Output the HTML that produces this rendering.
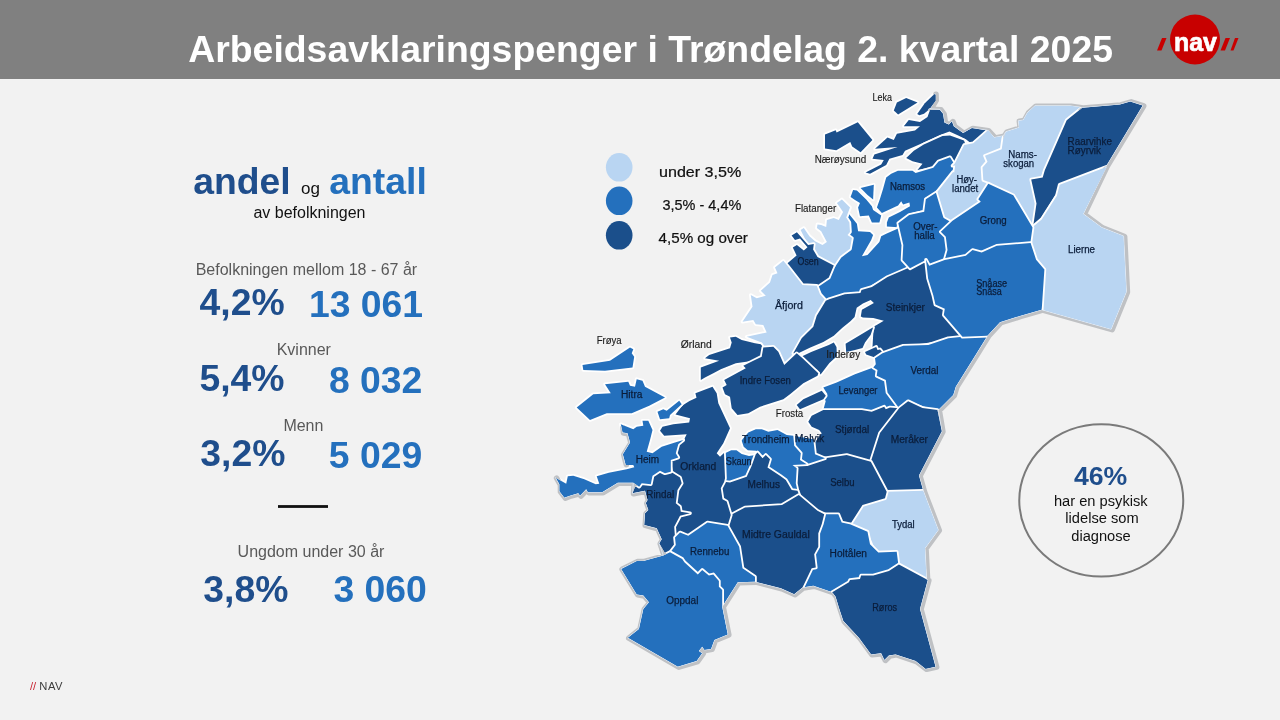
<!DOCTYPE html>
<html lang="nb">
<head>
<meta charset="utf-8">
<title>Arbeidsavklaringspenger i Trøndelag 2. kvartal 2025</title>
<style>
html,body{margin:0;padding:0;}
body{width:1280px;height:720px;overflow:hidden;background:#f2f2f2;font-family:"Liberation Sans",Arial,sans-serif;position:relative;}
.hdr{position:absolute;left:0;top:0;width:1280px;height:78.5px;background:#808080;}
svg{position:absolute;left:0;top:0;}
svg text{font-family:"Liberation Sans",Arial,sans-serif;}
.L{fill:#b9d5f2;stroke:#fff;stroke-width:3.6;paint-order:stroke;stroke-linejoin:round;}
.M{fill:#2470bd;stroke:#fff;stroke-width:3.6;paint-order:stroke;stroke-linejoin:round;}
.D{fill:#1b4f8b;stroke:#fff;stroke-width:3.6;paint-order:stroke;stroke-linejoin:round;}
.W{fill:#f2f2f2;stroke:#fff;stroke-width:1.2;stroke-linejoin:round;}
.bw{fill:none;stroke:#dbe8f6;stroke-width:0.9;stroke-linejoin:round;stroke-linecap:round;}
.bd{fill:none;stroke:#bfc1c4;stroke-width:5.6;stroke-linejoin:round;stroke-linecap:round;}
#lab text{font-size:10px;fill:#0b1d3a;stroke:#0b1d3a;stroke-width:.25;}
#lab text.o{fill:#1c1c1c;stroke:#1c1c1c;stroke-width:.15;}
#leg text{font-size:13.9px;fill:#111;stroke:#111;stroke-width:.2;}
</style>
</head>
<body>
<div class="hdr"></div>

<svg width="1280" height="720" viewBox="0 0 1280 720">
<text x="30" y="689.9" font-size="11.2" fill="#3c3c3c"><tspan fill="#c8202f">//</tspan> <tspan letter-spacing=".5">NAV</tspan></text>
<g id="txt">
<text x="188.2" y="62" font-size="37.4" font-weight="bold" fill="#fff">Arbeidsavklaringspenger i Trøndelag 2. kvartal 2025</text>
<g font-size="37.33" font-weight="bold">
<text x="193.2" y="194.1" fill="#1f4e8c">andel</text>
<text x="329.3" y="194.1" fill="#2470bd">antall</text>
<text x="199.5" y="315.1" fill="#1f4e8c">4,2%</text>
<text x="308.9" y="317" fill="#2470bd">13 061</text>
<text x="199.4" y="390.9" fill="#1f4e8c">5,4%</text>
<text x="328.9" y="392.9" fill="#2470bd">8 032</text>
<text x="200.3" y="465.9" fill="#1f4e8c">3,2%</text>
<text x="328.8" y="467.5" fill="#2470bd">5 029</text>
<text x="203.3" y="601.7" fill="#1f4e8c">3,8%</text>
<text x="333.4" y="601.7" fill="#2470bd">3 060</text>
</g>
<text x="301" y="193.7" font-size="17" fill="#111">og</text>
<text x="253.4" y="217.7" font-size="16" fill="#111">av befolkningen</text>
<g font-size="16" fill="#595959">
<text x="195.7" y="275.3">Befolkningen mellom 18 - 67 år</text>
<text x="276.7" y="355.3">Kvinner</text>
<text x="283.4" y="431.3">Menn</text>
<text x="237.6" y="556.6">Ungdom under 30 år</text>
</g>
<rect x="278" y="505.1" width="50" height="2.8" fill="#111"/>
</g>
<!-- NAV logo -->
<g id="logo">
<circle cx="1195" cy="39.5" r="25" fill="#c80000"/>
<polygon points="1162,38 1166.5,38 1161.5,50.5 1157,50.5" fill="#c80000"/>
<polygon points="1225.5,38 1230,38 1225,50.5 1220.5,50.5" fill="#c80000"/>
<polygon points="1235,38 1238.5,38 1233.5,50.5 1230.5,50.5" fill="#c80000"/>
<text x="1173.9" y="50.6" textLength="43" lengthAdjust="spacingAndGlyphs" font-size="26.5" font-weight="bold" fill="#fff" stroke="#fff" stroke-width="0.7" style="font-family:'Liberation Sans',Arial,sans-serif">nav</text>
</g>
<!-- circle callout -->
<ellipse cx="1101.25" cy="500.4" rx="82" ry="76.2" fill="none" stroke="#7a7a7a" stroke-width="2"/>
<text x="1100.6" y="484.5" text-anchor="middle" font-size="26.67" font-weight="bold" fill="#1f4e8c">46%</text>
<text x="1100.8" y="505.6" text-anchor="middle" font-size="14.67" fill="#111">har en psykisk</text>
<text x="1102" y="523.2" text-anchor="middle" font-size="14.67" fill="#111">lidelse som</text>
<text x="1101" y="540.6" text-anchor="middle" font-size="14.67" fill="#111">diagnose</text>
<!-- legend -->
<g id="leg">
<ellipse cx="619.2" cy="167.3" rx="13.3" ry="14.3" fill="#b9d5f2"/>
<ellipse cx="619.2" cy="200.8" rx="13.3" ry="14.3" fill="#2470bd"/>
<ellipse cx="619.2" cy="235.3" rx="13.3" ry="14.3" fill="#1b4f8b"/>
<text x="659" y="176.8" textLength="82.3" lengthAdjust="spacingAndGlyphs">under 3,5%</text>
<text x="662.5" y="209.5" textLength="78.8" lengthAdjust="spacingAndGlyphs">3,5% - 4,4%</text>
<text x="658.6" y="243" textLength="89.3" lengthAdjust="spacingAndGlyphs">4,5% og over</text>
</g>
<!-- map -->
<g id="map">
<defs>
<polygon id="p0" points="893.8,110.6 896.9,102.5 906.2,98.1 917.5,102.5 898.1,114.4"/>
<polygon id="p1" points="917.2,114 924.8,103.2 934.4,94 935.8,94.5 935.8,100.8 930,108.8 924,113.8 919.4,115.2"/>
<polygon id="p2" points="930,110 940,110 943.1,113.8 944.4,122.5 948.8,124.4 951.9,121.2 953.8,126.2 963.1,133.1 971.9,128.1 987.5,130.6 977.5,142.8 973.1,144.9 966.2,139.5 958.8,135.8 949.4,131.4 940,135.1 925,142 905,150.8 902.5,155 889.4,158.8 886.2,165 870,173.8 865.6,172.5 881.2,164.4 883.8,160 872.5,158.8 874.4,154.4 897.5,146.9 875,148.8 887.5,137.5 893.8,140 896.9,133.8 915,130.6 920,126.2 903.8,126.2 908.8,120 920,121.9 927.5,116.9"/>
<polygon id="p3" points="906.2,158.1 913.8,150.8 923.8,144.4 942.5,136.1 950,135.5 964,140.5 965.2,143.8 957.5,163.1 950,158.1 940,162.5 935,166.2 917.5,170 922.5,163.8 912.5,161.2"/>
<polygon id="p4" points="825,134.4 835.7,130.3 836.6,132.5 857.8,122.2 872.4,140 860.6,152.2 852.2,146.6 850.3,141.9 836.3,150.3 825,148.4"/>
<polygon id="p5" points="876.9,207.5 880,198.8 883.1,188.8 886.2,177.5 891.2,173.8 897.9,170.8 912.5,170.8 915.6,172.9 933.3,167.7 938.5,161.5 950,157.3 955.2,165.6 953.1,171.9 937.5,191.5 925,198.1 923.8,210 908.8,213.8 898.1,223.8 898.1,227.3 886.9,226.5 886.9,222.5 888.8,217.5 900,211.9 910,206.2 909.4,202.5 903.1,204.4 901.2,201.2 898.1,205.6 881.9,213.1"/>
<polygon id="p6" points="860.6,188.1 873.8,184.8 873.1,199.4 867.5,195"/>
<polygon id="p7" points="850.6,196.9 853.1,190 856.9,190.6 866.2,199.4 871.9,206.2 873.1,210 881.2,215.6 879.4,222.5 871.9,222.5 868.8,215.6 860,216.2 858.1,207.5 860,203.1 855,200"/>
<polygon id="p8" points="848.8,213.8 856.9,223.8 858.1,231.2 870,231.9 873.1,235 871.2,240 861.9,256.2 867.5,255 879.4,241.9 881.2,236.2 886.2,233.8 898.1,228.5 899,224 902.1,241.7 902.1,258.3 909.4,267.7 887.5,277.1 870.8,285.4 868.3,289.6 852.1,293.8 829.2,299.2 825.8,300.8 820,294.2 816.7,285.8 828.8,277.5 832.3,263.5 849,247.9 850,237.5 846.2,232.3 846.9,222.5"/>
<polygon id="p9" points="836.9,203.1 841.9,199.4 850,207.5 846.2,217.5 849.4,222.5 850,231.9 847.5,235 851.9,238.1 850,248.8 840,256.2 833.8,265.6 817.5,256.9 813.1,249.4 813.8,244.1 808.1,245 800.6,230 803.8,228.1 809.4,236.2 815,241.2 822.5,245 826.9,241.9 821.2,231.2 816.9,228.1 817.5,224.4 821.2,225 826.2,226.9 826.9,220 833.8,218.1 838.8,220 843.1,211.9 840,207.5"/>
<polygon id="p10" points="791.6,235.6 796.9,232.2 808.1,245 813.8,244.1 813.1,249.4 817.5,256.9 833.8,265.6 828.8,277.5 816.7,285.8 802.5,285 786.9,263.8 796.6,255.6 792.8,247.5 796.9,245 803.8,250.6 807.5,247.2 800,238.4 795,240"/>
<polygon id="p11" points="783.3,260.8 787.5,265.8 802.5,285 816.7,285.8 820,294.2 825.8,300.8 816.7,315.8 813.3,326.7 801.7,338.3 793.3,353.3 785,365 780,356.7 776.7,348.3 764.2,346.7 761.7,342.5 746.7,336.7 766.7,332.5 763.3,325 755.8,324.2 753.3,320 742.5,321.7 752.5,306.7 750.8,295 756.7,298.3 765.8,295.8 760.8,290.8 770,282.5 772.5,275 777.5,273.3 775,267.5"/>
<polygon id="p12" points="926,259.8 928.1,278.5 933.3,295.2 935.4,304.6 944.8,308.8 943.8,315 962.5,336.9 933.3,342.1 904.2,346.2 882.8,353.3 880,349.4 877.5,350 876.2,346.9 872.5,346.9 873.1,336.2 873.9,326.5 877.5,324.4 883.8,320.7 873.3,318.1 862.9,317.6 860.8,316.6 861.9,309.8 873.9,303 870.7,299.9 862.9,303.5 856.7,307.7 854.6,317.1 850.4,321.2 842.1,328 833.8,335.8 823.3,342.1 809.8,347.8 797.8,353.5 793.3,353.3 801.7,338.3 813.3,326.7 816.7,315.8 825.8,300.8 829.2,299.2 844.8,294.2 860.4,293.1 861.5,290 871.9,286.9 887.5,277.1 908.3,268.1"/>
<polygon id="p13" points="800.6,356.9 811.2,351.9 828.8,345 833.8,342.5 836.5,346.9 836.9,356.2 829.4,363.1 820.6,374.4 817.5,370 804.4,363.1"/>
<polygon id="p14" points="845.6,343.8 871.9,328.1 873.1,327.5 870.6,335 865,342.5 862.5,348.1 855,350 846.2,351.9"/>
<polygon id="p15" points="865,351.9 873.8,348.1 876.2,346.9 877.5,350 880,349.4 883.1,353.1 875,357.5 866.2,354.4"/>
<polygon id="p16" points="823.3,387.5 836.7,382.5 855,374.2 873.3,367.5 877.5,370 876.7,375.8 885.8,380 887.5,392.5 899.2,408.3 890,407.5 885.8,409.2 884.2,406.7 871.7,411.7 861.7,410 823.3,410 825.8,400.8 823.3,399.2 827.5,394.2"/>
<polygon id="p17" points="796.7,405 803.3,399.2 821.7,390.8 825.8,395.8 823.3,399.2 800,409.2"/>
<polygon id="p18" points="823.3,410 861.7,410 871.7,411.7 884.2,406.7 885.8,409.2 890,407.5 899.2,408.3 880,433.3 870.8,460.8 845,455.8 825.8,457.5 815,455 814.2,443.3 821.7,433.3 819.2,430 811.7,426.7 808.3,421.7 811.7,415.8"/>
<polygon id="p19" points="875,358.3 882.5,353.3 903.3,345.8 928.3,345 948.3,338.3 962.5,336.7 987.5,335.8 976.7,353.3 955.8,386.7 953.3,395 938.3,410 926.7,407.5 908.3,400.8 899.2,408.3 887.5,392.5 885.8,380 876.7,375.8 877.5,370 873.3,367.5 875.8,364.2"/>
<polygon id="p20" points="937.5,191.7 945,216.7 952.5,220.8 940.8,231.7 945.8,236.7 947.5,250 944.2,260 929.2,265.8 925.8,260 910,268.3 902.5,260 903.3,245 898.3,223.3 909.2,215 924.2,211.7 925.8,199.2"/>
<polygon id="p21" points="973.3,143.3 988.3,130 994.2,137.5 1003.3,135.8 1003.3,138.3 1001.7,149.2 985,155.8 987.5,161.7 982.5,167.5 983.3,180 990,182.5 978.3,200 980.8,204.2 952.5,220.8 945,216.7 937.5,191.7 953.1,171.9 954.2,172.5 955.2,165.6 952.5,165.8 955,163.3 964.2,145"/>
<polygon id="p22" points="1003.3,138.3 1005.8,131.7 1019.2,127.5 1018.3,120.8 1023.3,120 1027.5,112.5 1035,105.8 1070,105.8 1081,107 1067.5,120.8 1060.8,138.3 1055,152.5 1044.2,167.5 1040.8,178.3 1031,180.8 1036.7,200 1034,224 1032.5,227.5 1013.3,195 1005.8,191.7 998.3,190 990,182.5 983.3,180 982.5,167.5 987.5,161.7 985,155.8 1001.7,149.2"/>
<polygon id="p23" points="1082.3,107.7 1119.8,104.6 1130.2,101.5 1142.7,105.6 1106.2,166 1059.4,184.8 1057.3,192.1 1041.7,217.1 1033.3,225.4 1036.5,203.5 1031.2,179.6 1042.7,177.5 1044.8,170.2 1066.7,120.2"/>
<polygon id="p24" points="1106.9,166.7 1083.3,213.9 1088.9,218.1 1101.7,227.5 1123.6,236.1 1126.4,291.7 1111.1,329.2 1041.7,309.7 1044.4,269.4 1036.1,259.7 1030.6,243.1 1033.3,226.4 1041.7,219.4 1056.9,195.8 1059.7,184.7"/>
<polygon id="p25" points="988.3,183.7 1013.3,195.3 1032.5,227.5 1030.3,243.3 996.7,245.8 981.7,252.5 972.5,250 965.8,255.8 944.7,260 947.5,250 945.8,236.7 940.8,231.7 952.5,220.8 980.8,201.7 978.3,199.2"/>
<polygon id="p26" points="944.7,260 965.8,255.8 972.5,250 981.7,252.5 996.7,245.8 1030.6,243.1 1036.1,259.7 1044.4,269.4 1041.7,309.7 1020,316 1000,322.2 987.5,335.8 962.5,336.7 943.8,315 944.8,308.8 935.4,304.6 933.3,295.2 928.1,278.5 926,259.8 929.2,265.8"/>
<polygon id="p27" points="899.4,408.1 908.1,401.2 922.5,408.1 937.5,410 941.9,431.2 919,475.5 923.3,490.8 886.7,491.7 870.8,461.7 880,433.1"/>
<polygon id="p28" points="886.7,491.7 923.3,490.8 925.8,497.5 938.3,530 925,548.3 926.6,579.7 898.4,565.6 896.7,553.3 875.8,550.8 868.3,533.3 850.8,523.3 862.5,505 885,498.3"/>
<polygon id="p29" points="792.5,465 806.7,464.2 825,458.3 846.7,455 870.8,461.7 886.7,491.7 885,498.3 862.5,505 850.8,523.3 842.5,522.5 839.2,514.2 824.2,513.3 816.7,510 799.2,495 795.8,483.3 796.7,468.3"/>
<polygon id="p30" points="793.3,435.8 813.3,439.2 815,454.2 825,458.3 806.7,464.2 800,460 800.8,453.3 794.2,445.8"/>
<polygon id="p31" points="742.5,439.2 748.3,432.5 755.8,429.2 761.7,429.2 768.3,431.7 777.5,430 786.7,435 793.3,435.8 794.2,445.8 800.8,453.3 800,460 806.7,464.2 792.5,465 796.7,468.3 795.8,483.3 797.5,490.8 791.7,490 785.8,480 780,475.8 767.5,467.5 770,459.2 765.8,455 762.5,458.3 757.5,452.5 756.2,450.8 747.8,450.3 743.7,446.7 741.7,440.8"/>
<polygon id="p32" points="725,453.3 731.2,450.3 736.5,450.3 741.7,454 749,456 755.5,455 751.7,465.8 746.7,476.7 730,482.5 724.2,481.7 725,465 723.3,458.3"/>
<polygon id="p33" points="755.8,454.2 757.5,452.5 762.5,458.3 765.8,455 770,459.2 767.5,467.5 780,475.8 785.8,480 791.7,490 797.5,490.8 799.2,495 784.2,505 745,507.5 730.8,515 726.7,500.8 722.5,499.2 720.8,488.3 724.2,481.7 730,482.5 746.7,476.7 751.7,465.8"/>
<polygon id="p34" points="824.2,514.2 838.3,514.2 841.7,522.5 850,524.2 867.5,531.7 870,544.2 878.3,552.5 896.7,551.7 898.3,564.2 886.7,575 873.3,575.8 865,578.3 860,576.7 859.2,580 851.7,580 848.3,583.3 832.5,593.3 830.8,591.7 813.3,585.8 802.5,587.5 811.7,568.3 815.8,567.5 814.2,554.2 818.3,546.7 818.3,533.3 821.7,524.2"/>
<polygon id="p35" points="730.8,515 745,507.5 782,505 798.8,495 817.5,510.8 824.2,514.2 821.7,524.2 818.3,533.3 818.3,546.7 814.2,554.2 815.8,567.5 811.7,568.3 802.5,587.5 794.2,594.2 780.8,588.3 755,581.7 755,576.7 742.5,568.3 739.2,546.7 727.5,525.8"/>
<polygon id="p36" points="712.5,386.7 716.7,393.3 718.3,403.3 730,428.3 723.3,443.3 716.7,453.3 720,456.7 724,453 725,478.3 724.2,481.7 720.8,488.3 722.5,499.2 726.7,501.5 730.8,515 727.5,525.8 707.5,522.5 688.3,535.8 680,532.5 675,537.5 674.2,526.7 680,515.8 690,513.3 680.8,511.7 680,506.7 675.8,503.3 677.5,490 680,482 680.8,478.3 674.2,478.3 670.8,460 678.3,456.7 675.8,453.3 678.3,443.3 684.2,439.2 686.7,434.2 664.2,435.8 660,430.8 662.5,426.7 673.3,424.2 689.2,422.5 690,418.3 675.5,414.5 682.4,405.4 689.5,401 696.5,397.8 695.4,393.3"/>
<polygon id="p37" points="657.5,411.7 663.3,409.2 666.7,410.8 679.2,400.8 681.7,404.2 670,415 669.2,418.3 660,419.2"/>
<polygon id="p38" points="652.5,475.8 660,470.8 665,473.3 670.8,471.7 680,477.5 681.7,483.3 677.5,490 675.8,503.3 680,506.7 680.8,511.7 690,513.3 680,515.8 674.2,526.7 675,537.5 675.8,545 670.8,551.7 665,553.3 659.2,543.3 661.7,539.2 656.7,528.3 644.2,525 645,513.3 648.3,510 645.8,503 647.5,500 645,490.8 632.5,493.3 635,486.7 640,485.8 641.7,483.3 650.8,484.2"/>
<polygon id="p39" points="620.8,424.2 633.3,429.2 636.7,426.7 643.3,425.8 642.5,420.8 648.3,420.8 652.5,430 650,440 646.7,451.7 652.5,453.3 661.7,446.7 675,442.5 683.3,440 678.3,444.2 675.8,453.3 678.3,457.5 670.8,460 670.8,471.7 665,473.3 660,470.8 652.5,475.8 650.8,484.2 641.7,483.3 639.2,486.7 633.3,482.8 617.8,482.8 602.2,492.2 587.8,492.2 586.2,489.3 580,495.7 578.3,493.3 570,495.7 564.3,497.8 559.3,491.2 559.3,484.3 555.7,477.8 566.2,483.8 567.8,476.2 573.3,475.7 584.3,479.3 595.7,484.3 599.3,483.8 596.7,476.2 608.8,472.8 626.7,469.3 634.3,467.2 633.3,465 625.7,465 622.8,454.3 630,442.5 627.5,433.3 622.5,432.5"/>
<polygon id="p40" points="582.5,365 610,360.8 630,347.5 633.3,349.2 631.7,353.3 634.2,356.7 632.5,367.5 605,370.8 583.3,370"/>
<polygon id="p41" points="605,384.2 628.3,381.7 630,385.8 635,386.7 636.7,379.2 642.5,380.8 645,386.7 665,397.5 649.2,405.8 631.7,413.3 606.7,413.3 590,420 576.7,407.5 593.3,394.2 610.8,393.3"/>
<polygon id="p42" points="727.5,525.8 739.2,546.7 742.5,568.3 755,576.7 755,581.7 737.8,582.2 722.2,606.7 722.2,590 718.9,586.7 718.9,581.1 713.3,574.4 708.9,575.6 702.2,570 697.8,574.4 684.4,562.2 682.2,558.9 670.8,551.7 675.8,545 675,537.5 680,532.5 688.3,535.8 707.5,522.5"/>
<polygon id="p43" points="670,552.2 682.2,558.9 684.4,562.2 697.8,574.4 702.2,570 708.9,575.6 713.3,574.4 718.9,581.1 718.9,586.7 722.2,590 722.2,606.7 727.8,634.4 714.4,640 711.1,648.9 704.4,650 702.2,646.7 698.9,651.1 702.2,653.3 696.7,661.1 677.8,666.7 627.8,637.8 638.9,628.9 643.3,608.9 648.9,602.2 643.3,595.6 636.7,594.4 621.1,568.9 636.7,561.1 643.3,561.1 663.3,555.6"/>
<polygon id="p44" points="832.2,592.2 848.9,582.2 850,580 860,578.9 861.1,575.6 873.3,575.6 888.9,571.1 898.9,564.4 927.8,580 920,608.9 935.6,666.7 925.6,668.9 915.6,661.1 895.6,654.4 888.9,655.6 884.4,660 881.1,653.3 871.1,654.4 858.9,637.8 843.3,621.1 838.9,607.8 835.6,596.7"/>
<polygon id="p45" points="730,337.5 735.8,336.7 741.7,340 755,343.3 760.8,344.2 763.3,347.5 761.7,356.7 753.3,360.8 735.8,363.3 720.8,369.2 713.3,373.3 705,377.5 700.8,380 700.8,367.5 719.2,360.8 705,358.3 709.2,355 730,348.3 731.7,342.5"/>
<polygon id="p46" points="761.7,356.7 763.3,347.5 773.3,346.7 778.3,351.7 784.2,365 796.7,353.3 802.5,358.3 818.3,373.3 817.5,375.8 803.3,383.3 790,394.2 783.3,399.2 760,406.7 748.3,413.3 737.5,415 731.7,408.3 730,396.7 725,394.2 722.5,387.5 726.7,385 724.2,380 745.8,368.3 743.3,365.8 753.3,360.8"/>
<mask id="out" maskUnits="userSpaceOnUse" x="520" y="80" width="660" height="620"><rect x="520" y="80" width="660" height="620" fill="#fff"/><g fill="#000"><use href="#p0"/><use href="#p1"/><use href="#p2"/><use href="#p3"/><use href="#p4"/><use href="#p5"/><use href="#p6"/><use href="#p7"/><use href="#p8"/><use href="#p9"/><use href="#p10"/><use href="#p11"/><use href="#p12"/><use href="#p13"/><use href="#p14"/><use href="#p15"/><use href="#p16"/><use href="#p17"/><use href="#p18"/><use href="#p19"/><use href="#p20"/><use href="#p21"/><use href="#p22"/><use href="#p23"/><use href="#p24"/><use href="#p25"/><use href="#p26"/><use href="#p27"/><use href="#p28"/><use href="#p29"/><use href="#p30"/><use href="#p31"/><use href="#p32"/><use href="#p33"/><use href="#p34"/><use href="#p35"/><use href="#p36"/><use href="#p37"/><use href="#p38"/><use href="#p39"/><use href="#p40"/><use href="#p41"/><use href="#p42"/><use href="#p43"/><use href="#p44"/><use href="#p45"/><use href="#p46"/></g></mask>
</defs>
<use href="#p0" class="D"/>
<use href="#p1" class="D"/>
<use href="#p2" class="D"/>
<use href="#p3" class="D"/>
<use href="#p4" class="D"/>
<use href="#p5" class="M"/>
<use href="#p6" class="M"/>
<use href="#p7" class="M"/>
<use href="#p8" class="M"/>
<use href="#p9" class="L"/>
<use href="#p10" class="D"/>
<use href="#p11" class="L"/>
<use href="#p12" class="D"/>
<use href="#p13" class="D"/>
<use href="#p14" class="D"/>
<use href="#p15" class="D"/>
<use href="#p16" class="M"/>
<use href="#p17" class="D"/>
<use href="#p18" class="D"/>
<use href="#p19" class="M"/>
<use href="#p20" class="M"/>
<use href="#p21" class="L"/>
<use href="#p22" class="L"/>
<use href="#p23" class="D"/>
<use href="#p24" class="L"/>
<use href="#p25" class="M"/>
<use href="#p26" class="M"/>
<use href="#p27" class="D"/>
<use href="#p28" class="L"/>
<use href="#p29" class="D"/>
<use href="#p30" class="M"/>
<use href="#p31" class="M"/>
<use href="#p32" class="M"/>
<use href="#p33" class="D"/>
<use href="#p34" class="M"/>
<use href="#p35" class="D"/>
<use href="#p36" class="D"/>
<use href="#p37" class="M"/>
<use href="#p38" class="D"/>
<use href="#p39" class="M"/>
<use href="#p40" class="M"/>
<use href="#p41" class="M"/>
<use href="#p42" class="M"/>
<use href="#p43" class="M"/>
<use href="#p44" class="D"/>
<use href="#p45" class="D"/>
<use href="#p46" class="D"/>
<g mask="url(#out)">
<polyline class="bd" transform="translate(1.0,0.4)" points="935,93.8 935.2,100 930,108.8 940,109.4 943.1,113.8 944.4,122.5 948.8,124.4 951.9,121.2 953.8,126.2 963.1,133.1 971.9,128.1 987.5,130.3 994.2,137.5 1003.3,135.8 1005.8,131.7 1019.2,127.5 1018.3,120.8 1023.3,120 1027.5,112.5 1035,105.8 1070,105.8 1082.3,107.7 1119.8,104.6 1130.2,101.5 1142.7,105.6 1106.2,166 1083.3,213.9 1088.9,218.1 1101.7,227.5 1123.6,236.1 1126.4,291.7 1111.1,329.2 1041.7,309.7 1020,316 1000,322.2 987.5,335.8 976.7,353.3 955.8,386.7 953.3,395 938.3,410 941.9,431.2 919,475.5 923.3,490.8 925.8,497.5 938.3,530 925,548.3 926.6,579.7 927.8,580 920,608.9 935.6,666.7 925.6,668.9 915.6,661.1 895.6,654.4 888.9,655.6 884.4,660 881.1,653.3 871.1,654.4 858.9,637.8 843.3,621.1 838.9,607.8 835.6,596.7 832.2,592.2 830.8,591.7 813.3,585.8 802.5,587.5 794.2,594.2 780.8,588.3 755,581.7 737.8,582.2 722.2,606.7 727.8,634.4 714.4,640 711.1,648.9 704.4,650 702.2,646.7 698.9,651.1 702.2,653.3 696.7,661.1 677.8,666.7 627.8,637.8 638.9,628.9 643.3,608.9 648.9,602.2 643.3,595.6 636.7,594.4 621.1,568.9 636.7,561.1 643.3,561.1 663.3,555.6 659.2,543.3 661.7,539.2 656.7,528.3 644.2,525 645,513.3 648.3,510 645.8,503 647.5,500 645,490.8 632.5,493.3 633.3,482.8 617.8,482.8 602.2,492.2 587.8,492.2 586.1,489.4 580,495.6 578.3,493.3 570,495.6 564.4,497.8 559.4,491.1 559.4,484.4 555.6,477.8"/>
<polyline class="bw" points="935,93.8 935.2,100 930,108.8 940,109.4 943.1,113.8 944.4,122.5 948.8,124.4 951.9,121.2 953.8,126.2 963.1,133.1 971.9,128.1 987.5,130.3 994.2,137.5 1003.3,135.8 1005.8,131.7 1019.2,127.5 1018.3,120.8 1023.3,120 1027.5,112.5 1035,105.8 1070,105.8 1082.3,107.7 1119.8,104.6 1130.2,101.5 1142.7,105.6 1106.2,166 1083.3,213.9 1088.9,218.1 1101.7,227.5 1123.6,236.1 1126.4,291.7 1111.1,329.2 1041.7,309.7 1020,316 1000,322.2 987.5,335.8 976.7,353.3 955.8,386.7 953.3,395 938.3,410 941.9,431.2 919,475.5 923.3,490.8 925.8,497.5 938.3,530 925,548.3 926.6,579.7 927.8,580 920,608.9 935.6,666.7 925.6,668.9 915.6,661.1 895.6,654.4 888.9,655.6 884.4,660 881.1,653.3 871.1,654.4 858.9,637.8 843.3,621.1 838.9,607.8 835.6,596.7 832.2,592.2 830.8,591.7 813.3,585.8 802.5,587.5 794.2,594.2 780.8,588.3 755,581.7 737.8,582.2 722.2,606.7 727.8,634.4 714.4,640 711.1,648.9 704.4,650 702.2,646.7 698.9,651.1 702.2,653.3 696.7,661.1 677.8,666.7 627.8,637.8 638.9,628.9 643.3,608.9 648.9,602.2 643.3,595.6 636.7,594.4 621.1,568.9 636.7,561.1 643.3,561.1 663.3,555.6 659.2,543.3 661.7,539.2 656.7,528.3 644.2,525 645,513.3 648.3,510 645.8,503 647.5,500 645,490.8 632.5,493.3 633.3,482.8 617.8,482.8 602.2,492.2 587.8,492.2 586.1,489.4 580,495.6 578.3,493.3 570,495.6 564.4,497.8 559.4,491.1 559.4,484.4 555.6,477.8"/>
<polyline class="bd" transform="translate(1.0,0.4)" points="622,427.5 622.5,432.5 627.5,433.3 630,442.5 622.8,454.3 625.3,464.2"/>
<polyline class="bw" points="622,427.5 622.5,432.5 627.5,433.3 630,442.5 622.8,454.3 625.3,464.2"/>
</g>
</g>
<g id="lab">
<text x="872.5" y="101.25" textLength="19.4" lengthAdjust="spacingAndGlyphs" class="o">Leka</text>
<text x="814.7" y="162.5" textLength="51.5" lengthAdjust="spacingAndGlyphs" class="o">Nærøysund</text>
<text x="889.9" y="190.2" textLength="35.3" lengthAdjust="spacingAndGlyphs">Namsos</text>
<text x="956.5" y="182.7" textLength="20.5" lengthAdjust="spacingAndGlyphs">Høy-</text>
<text x="952" y="192.1" textLength="26.2" lengthAdjust="spacingAndGlyphs">landet</text>
<text x="795" y="211.9" textLength="41.2" lengthAdjust="spacingAndGlyphs" class="o">Flatanger</text>
<text x="797.5" y="265" textLength="21.2" lengthAdjust="spacingAndGlyphs">Osen</text>
<text x="775" y="308.7" textLength="27.8" lengthAdjust="spacingAndGlyphs">Åfjord</text>
<text x="826.3" y="357.5" textLength="33.9" lengthAdjust="spacingAndGlyphs" class="o">Inderøy</text>
<text x="885.8" y="310.6" textLength="39.1" lengthAdjust="spacingAndGlyphs">Steinkjer</text>
<text x="910.4" y="373.8" textLength="28.0" lengthAdjust="spacingAndGlyphs">Verdal</text>
<text x="838.4" y="393.8" textLength="39.1" lengthAdjust="spacingAndGlyphs">Levanger</text>
<text x="835" y="432.5" textLength="34.2" lengthAdjust="spacingAndGlyphs">Stjørdal</text>
<text x="890.7" y="443.2" textLength="37.3" lengthAdjust="spacingAndGlyphs">Meråker</text>
<text x="794.7" y="442.1" textLength="29.5" lengthAdjust="spacingAndGlyphs">Malvik</text>
<text x="913.3" y="230" textLength="24.2" lengthAdjust="spacingAndGlyphs">Over-</text>
<text x="914.2" y="238.8" textLength="20.5" lengthAdjust="spacingAndGlyphs">halla</text>
<text x="979.7" y="223.8" textLength="27.0" lengthAdjust="spacingAndGlyphs">Grong</text>
<text x="1008.3" y="157.5" textLength="28.6" lengthAdjust="spacingAndGlyphs">Nams-</text>
<text x="1003.3" y="166.7" textLength="30.9" lengthAdjust="spacingAndGlyphs">skogan</text>
<text x="1067.6" y="145.3" textLength="44.3" lengthAdjust="spacingAndGlyphs">Raarvihke</text>
<text x="1067.6" y="154.2" textLength="33.4" lengthAdjust="spacingAndGlyphs">Røyrvik</text>
<text x="1068" y="252.8" textLength="27.0" lengthAdjust="spacingAndGlyphs">Lierne</text>
<text x="976.2" y="286.8" textLength="30.9" lengthAdjust="spacingAndGlyphs">Snåase</text>
<text x="976.2" y="295.4" textLength="25.5" lengthAdjust="spacingAndGlyphs">Snåsa</text>
<text x="830.2" y="486.3" textLength="24.4" lengthAdjust="spacingAndGlyphs">Selbu</text>
<text x="892" y="528" textLength="22.7" lengthAdjust="spacingAndGlyphs">Tydal</text>
<text x="829.6" y="556.7" textLength="37.4" lengthAdjust="spacingAndGlyphs">Holtålen</text>
<text x="775.8" y="416.7" textLength="27.4" lengthAdjust="spacingAndGlyphs" class="o">Frosta</text>
<text x="742.1" y="443.3" textLength="47.4" lengthAdjust="spacingAndGlyphs">Trondheim</text>
<text x="725.8" y="465" textLength="25.9" lengthAdjust="spacingAndGlyphs">Skaun</text>
<text x="747.5" y="488.3" textLength="32.5" lengthAdjust="spacingAndGlyphs">Melhus</text>
<text x="742" y="537.5" textLength="67.7" lengthAdjust="spacingAndGlyphs">Midtre Gauldal</text>
<text x="646.3" y="498.3" textLength="27.9" lengthAdjust="spacingAndGlyphs">Rindal</text>
<text x="690" y="554.5" textLength="39.3" lengthAdjust="spacingAndGlyphs">Rennebu</text>
<text x="621" y="398.3" textLength="21.5" lengthAdjust="spacingAndGlyphs">Hitra</text>
<text x="635.8" y="463.3" textLength="23.4" lengthAdjust="spacingAndGlyphs">Heim</text>
<text x="680.3" y="470.3" textLength="36.0" lengthAdjust="spacingAndGlyphs">Orkland</text>
<text x="596.7" y="344.2" textLength="25.0" lengthAdjust="spacingAndGlyphs" class="o">Frøya</text>
<text x="680.8" y="348.3" textLength="30.9" lengthAdjust="spacingAndGlyphs" class="o">Ørland</text>
<text x="666.2" y="604.4" textLength="32.2" lengthAdjust="spacingAndGlyphs">Oppdal</text>
<text x="872.2" y="611.1" textLength="24.9" lengthAdjust="spacingAndGlyphs">Røros</text>
<text x="739.7" y="384.2" textLength="51.1" lengthAdjust="spacingAndGlyphs">Indre Fosen</text>
</g>
</svg>
</body>
</html>
